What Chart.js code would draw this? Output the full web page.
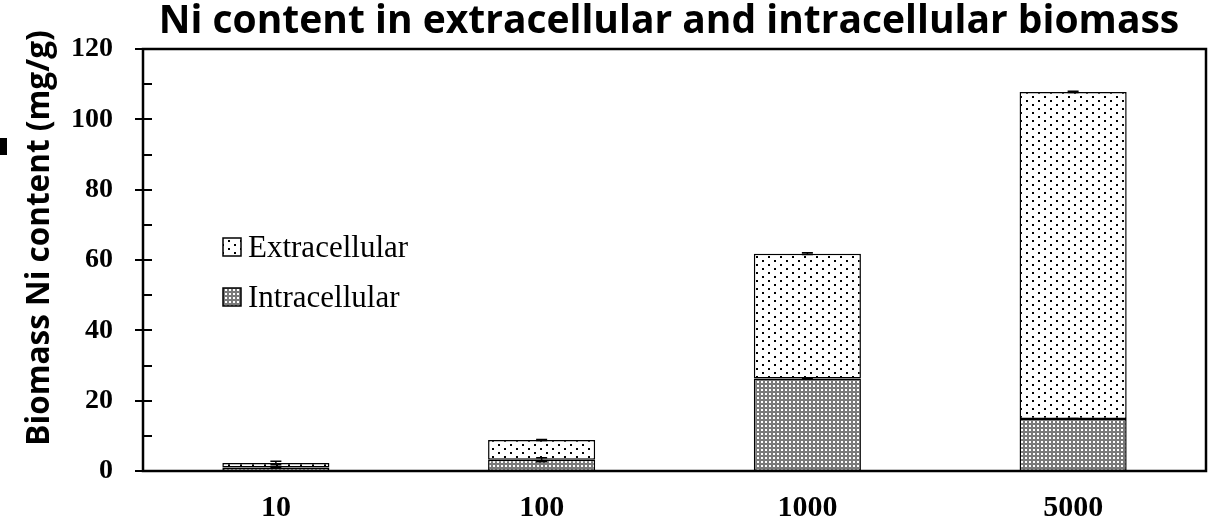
<!DOCTYPE html>
<html>
<head>
<meta charset="utf-8">
<script src="https://cdn.jsdelivr.net/npm/chart.js@4.4.1/dist/chart.umd.min.js"></script>
<style>
  html, body { margin: 0; padding: 0; background: #fff; }
</style>
</head>
<body>
<canvas id="chart" width="1213" height="528"></canvas>
<script>
// values (mg/g)
const concentrations = ["10", "100", "1000", "5000"];
const intracellular = [1.0, 3.2, 26.3, 14.8];
const extracellular = [1.3, 5.6, 35.5, 93.0];
const intraErr = [0.1, 0.6, 0.1, 0.1];
const extraErr = [0.5, 0.15, 0.25, 0.2];
const yMin = 0, yMax = 120, yStep = 20, yMinorStep = 10;
const legendLabels = ["Extracellular", "Intracellular"];
const chartTitle = "Ni content in extracellular and intracellular biomass";
const yTitle = "Biomass Ni content (mg/g)";

const serif = "'Liberation Serif', 'Times New Roman', serif";
const sans = "'Open Sans', 'Noto Sans', sans-serif";

function makePattern(w, h, bg, fg, dots, size) {
  const c = document.createElement("canvas");
  c.width = w; c.height = h;
  const g = c.getContext("2d");
  g.fillStyle = bg; g.fillRect(0, 0, w, h);
  g.fillStyle = fg;
  dots.forEach(([x, y]) => g.fillRect(x, y, size, size));
  return g.createPattern(c, "repeat");
}

const dotted = makePattern(12, 8, "#fff", "#000", [[0, 0], [6, 4]], 2);
const grayDots = makePattern(4, 4, "#7a7a7a", "#fff", [[1, 1]], 2);

// error bars, box, ticks, legend and titles
const decor = {
  id: "decor",
  beforeDraw(chart) {
    const ctx = chart.ctx;
    ctx.save();
    ctx.fillStyle = "#fff";
    ctx.fillRect(0, 0, chart.width, chart.height);
    ctx.restore();
  },
  afterDatasetsDraw(chart) {
    const ctx = chart.ctx;
    const y = chart.scales.y;
    const errs = [intraErr, extraErr];
    ctx.save();
    ctx.strokeStyle = "#000";
    ctx.lineWidth = 1.5;
    chart.data.datasets.forEach((ds, di) => {
      const meta = chart.getDatasetMeta(di);
      meta.data.forEach((bar, i) => {
        let top = 0;
        for (let k = 0; k <= di; k++) top += chart.data.datasets[k].data[i];
        const e = errs[di][i];
        const y1 = y.getPixelForValue(top + e), y2 = y.getPixelForValue(top - e);
        ctx.beginPath();
        ctx.moveTo(bar.x, y1); ctx.lineTo(bar.x, y2);
        ctx.moveTo(bar.x - 5.5, y1); ctx.lineTo(bar.x + 5.5, y1);
        ctx.moveTo(bar.x - 5.5, y2); ctx.lineTo(bar.x + 5.5, y2);
        ctx.stroke();
      });
    });
    ctx.restore();
  },
  afterDraw(chart) {
    const ctx = chart.ctx;
    const a = chart.chartArea;
    const y = chart.scales.y;
    ctx.save();
    // frame
    ctx.strokeStyle = "#000";
    ctx.lineWidth = 2.5;
    ctx.strokeRect(a.left, a.top, a.right - a.left, a.bottom - a.top);
    // y ticks
    ctx.lineWidth = 2;
    ctx.beginPath();
    for (let v = yMin; v <= yMax; v += yStep) {
      const py = Math.round(y.getPixelForValue(v));
      ctx.moveTo(a.left - 8, py); ctx.lineTo(a.left + 9, py);
    }
    for (let v = yMinorStep; v < yMax; v += yStep) {
      const py = Math.round(y.getPixelForValue(v));
      ctx.moveTo(a.left, py); ctx.lineTo(a.left + 9, py);
    }
    ctx.stroke();

    // legend inside the plot
    const fills = [dotted, grayDots];
    ctx.font = "31px " + serif;
    ctx.textBaseline = "alphabetic";
    ctx.textAlign = "left";
    legendLabels.forEach((lab, i) => {
      const by = 238 + i * 50;
      ctx.fillStyle = fills[i];
      ctx.fillRect(223, by, 18, 18);
      ctx.lineWidth = 1.5;
      ctx.strokeRect(223, by, 18, 18);
      ctx.fillStyle = "#000";
      ctx.fillText(lab, 248, by + 19);
    });

    // title
    ctx.fillStyle = "#000";
    ctx.font = "bold 39px " + sans;
    ctx.textAlign = "center";
    ctx.fillText(chartTitle, 669, 33);

    // y axis title
    ctx.translate(49, 238);
    ctx.rotate(-Math.PI / 2);
    ctx.font = "bold 31.5px " + sans;
    ctx.fillText(yTitle, 0, 0);
    ctx.restore();

    // stray mark at the left edge
    ctx.fillStyle = "#000";
    ctx.fillRect(0, 138, 7, 17);
  }
};

new Chart(document.getElementById("chart"), {
  type: "bar",
  data: {
    labels: concentrations,
    datasets: [
      { label: legendLabels[1], data: intracellular, backgroundColor: grayDots },
      { label: legendLabels[0], data: extracellular, backgroundColor: dotted }
    ]
  },
  options: {
    responsive: false,
    animation: false,
    devicePixelRatio: 1,
    layout: { padding: { top: 49, right: 7, left: 0, bottom: 0 } },
    datasets: {
      bar: {
        borderColor: "#000",
        borderWidth: 1.5,
        borderSkipped: false,
        barPercentage: 0.403,
        categoryPercentage: 1.0
      }
    },
    scales: {
      x: {
        stacked: true,
        grid: { display: false, drawTicks: false },
        border: { display: false },
        ticks: { color: "#000", padding: 19, font: { family: serif, size: 30, weight: "bold" } },
        afterFit: s => { s.height = 57; }
      },
      y: {
        stacked: true,
        min: yMin,
        max: yMax,
        grid: { display: false, drawTicks: false },
        border: { display: false },
        ticks: { stepSize: yStep, color: "#000", padding: 30, font: { family: serif, size: 28, weight: "bold" } },
        afterFit: s => { s.width = 143; }
      }
    },
    plugins: {
      legend: { display: false },
      tooltip: { enabled: false },
      title: { display: false }
    }
  },
  plugins: [decor]
});
</script>
</body>
</html>
